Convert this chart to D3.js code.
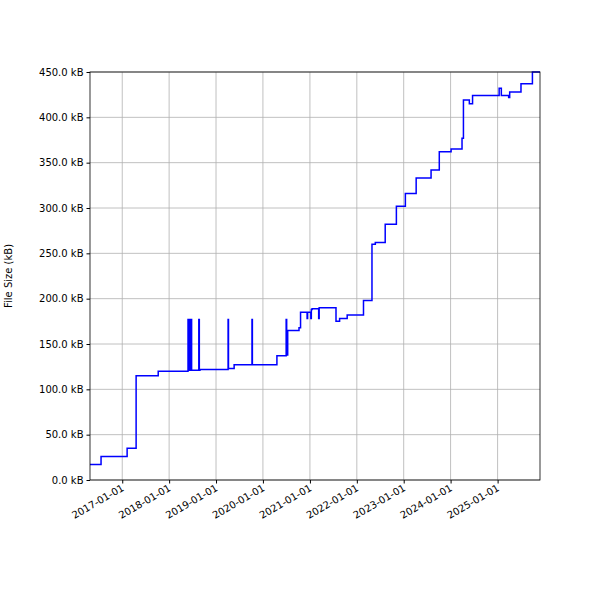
<!DOCTYPE html><html><head><script src="https://d3js.org/d3.v7.min.js"></script>
<style>body{margin:0;background:#fff}text{font-family:"DejaVu Sans";}</style></head><body><svg width="600" height="600"></svg>
<script>
const dates=["2016-04-25","2016-07-20","2017-02-08","2017-04-19","2017-10-08",
"2018-05-28","2018-06-01","2018-06-10","2018-06-13","2018-06-22","2018-06-25","2018-07-01","2018-08-20","2018-08-24","2018-08-29",
"2019-04-05","2019-04-08","2019-05-22","2019-10-08","2019-10-11","2020-04-19","2020-06-30","2020-07-04","2020-07-12","2020-10-08","2020-10-20",
"2020-12-10","2020-12-14","2021-01-08","2021-01-12","2021-01-18","2021-03-10","2021-03-14","2021-03-18","2021-07-23","2021-08-20","2021-10-18",
"2022-02-22","2022-04-29","2022-05-25","2022-08-10","2022-11-05","2023-01-14","2023-04-08","2023-08-02","2023-10-05","2024-01-05","2024-03-30","2024-04-10","2024-05-26","2024-06-20","2025-01-13","2025-01-30","2025-03-28","2025-04-05","2025-07-02","2025-09-29","2025-11-27"];
const sizes=[17,26,35,115,120,
177,121,177,121,177,121,121,177,121,122,
177,123,127,177,127,137,177,138,165,168,185,
178,185,178,188,189,178,190,190,175,178,182,
198,260,262,282,302,316,333,342,362,365,377,419,415,424,432,424,422,428,437,450,450];
const xTicks=["2017-01-01","2018-01-01","2019-01-01","2020-01-01","2021-01-01","2022-01-01","2023-01-01","2024-01-01","2025-01-01"];
const yTicks=[0,50,100,150,200,250,300,350,400,450];
const p=d3.timeParse("%Y-%m-%d");
const data=dates.map((d,i)=>({d:p(d),v:sizes[i]}));
const svg=d3.select("svg");
const L=90,R=540,T=72,B=480;
const x=d3.scaleTime().domain([p(dates[0]),p(dates[dates.length-1])]).range([L,R]);
const y=d3.scaleLinear().domain([0,450]).range([B,T]);
const g=svg.append("g");
g.selectAll(".gx").data(xTicks).join("line").attr("x1",d=>x(p(d))).attr("x2",d=>x(p(d))).attr("y1",T).attr("y2",B).attr("stroke","#b0b0b0").attr("stroke-width",0.8);
g.selectAll(".gy").data(yTicks).join("line").attr("x1",L).attr("x2",R).attr("y1",d=>y(d)).attr("y2",d=>y(d)).attr("stroke","#b0b0b0").attr("stroke-width",0.8);
svg.append("path").datum(data).attr("fill","none").attr("stroke","#0000ff").attr("stroke-width",1.5)
 .attr("d",d3.line().x(d=>x(d.d)).y(d=>y(d.v)).curve(d3.curveStepAfter));
svg.append("rect").attr("x",L).attr("y",T).attr("width",R-L).attr("height",B-T).attr("fill","none").attr("stroke","#000").attr("stroke-width",0.8);
const xa=svg.append("g").attr("transform",`translate(0,${B})`).call(d3.axisBottom(x).tickValues(xTicks.map(p)).tickFormat(d3.timeFormat("%Y-%m-%d")).tickSize(3.5));
xa.select(".domain").remove();
xa.selectAll("text").attr("font-size",10).attr("fill","#000").attr("text-anchor","end").attr("dy",0).attr("transform","translate(2,10) rotate(-30)").attr("y",0).attr("x",0);
const ya=svg.append("g").attr("transform",`translate(${L},0)`).call(d3.axisLeft(y).tickValues(yTicks).tickFormat(d=>d.toFixed(1)+" kB").tickSize(3.5));
ya.select(".domain").remove();
ya.selectAll("text").attr("font-size",10).attr("fill","#000");
svg.append("text").attr("transform",`translate(12,${(T+B)/2}) rotate(-90)`).attr("text-anchor","middle").attr("font-size",10).text("File Size (kB)");
</script></body></html>
